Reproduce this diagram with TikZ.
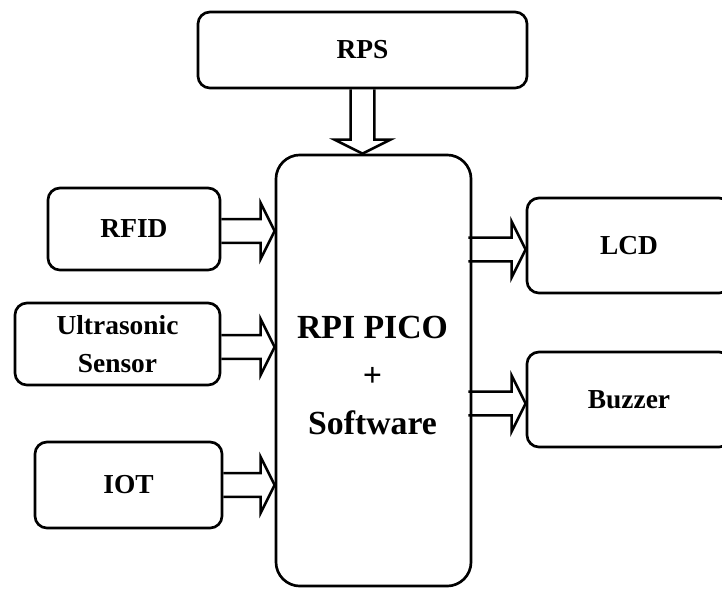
\documentclass[tikz,border=0pt]{standalone}
\usepackage{fontspec}
\setmainfont{Liberation Serif}
\usetikzlibrary{calc}

\begin{document}
\begin{tikzpicture}[x=0.025cm,y=-0.025cm,
    blk/.style={draw,line width=1.9pt,rounded corners=0.3cm,align=center,inner sep=0pt,
        font=\bfseries\fontsize{19.5}{27}\selectfont},
    fat/.style={line width=1.8pt,line join=miter,to path={
        ($(\tikztostart)!8.5pt!90:(\tikztotarget)$)
        -- ($(\tikztotarget)!10pt!(\tikztostart)!8.5pt!-90:(\tikztostart)$)
        -- ($(\tikztotarget)!10pt!(\tikztostart)!20pt!-90:(\tikztostart)$)
        -- (\tikztotarget)
        -- ($(\tikztotarget)!10pt!(\tikztostart)!20pt!90:(\tikztostart)$)
        -- ($(\tikztotarget)!10pt!(\tikztostart)!8.5pt!90:(\tikztostart)$)
        -- ($(\tikztostart)!8.5pt!-90:(\tikztotarget)$)}}]
        \useasboundingbox (0,0) rectangle (722,588);
        \clip (0,0) rectangle (722,588);

        % blocks
        \node[blk,minimum width=8.225cm,minimum height=1.9cm] (rps) at (362.5,50) {RPS};
        \node[blk,rounded corners=0.6cm,minimum width=4.875cm,minimum height=10.775cm] (pico) at (373.5,370.5) {};
        \node[align=center,font=\bfseries\fontsize{24}{34}\selectfont] (picotxt) at ($(pico)+(-1,5)$) {RPI PICO\\+\\Software};
        \node[blk,minimum width=4.3cm,minimum height=2.05cm] (rfid) at (134,229) {RFID};
        \node[blk,minimum width=5.125cm,minimum height=2.05cm] (us) at (117.5,344) {Ultrasonic\\Sensor};
        \node[blk,minimum width=4.675cm,minimum height=2.15cm] (iot) at (128.5,485) {IOT};
        \node[blk,minimum width=5.1cm,minimum height=2.375cm] (lcd) at (629,245.5) {LCD};
        \node[blk,minimum width=5.1cm,minimum height=2.375cm] (buzz) at (629,399.5) {Buzzer};

        % arrows
        \coordinate (lcdin) at ($(pico.east |- lcd.west)+(-4,4)$);
        \coordinate (lcdtip) at ($(lcd.west)+(0,4)$);
        \coordinate (buzzin) at ($(pico.east |- buzz.west)+(-4,4)$);
        \coordinate (buzztip) at ($(buzz.west)+(0,4)$);
        \draw[fat] (rps.south) to (rps.south |- pico.north);
        \draw[fat] ($(rfid.east)+(0,2)$) to ($(rfid.east -| pico.west)+(0,2)$);
        \draw[fat] ($(us.east)+(0,3)$) to ($(us.east -| pico.west)+(0,3)$);
        \draw[fat] (iot.east) to (iot.east -| pico.west);
        \draw[fat] (lcdin) to (lcdtip);
        \draw[fat] (buzzin) to (buzztip);
\end{tikzpicture}
\end{document}
